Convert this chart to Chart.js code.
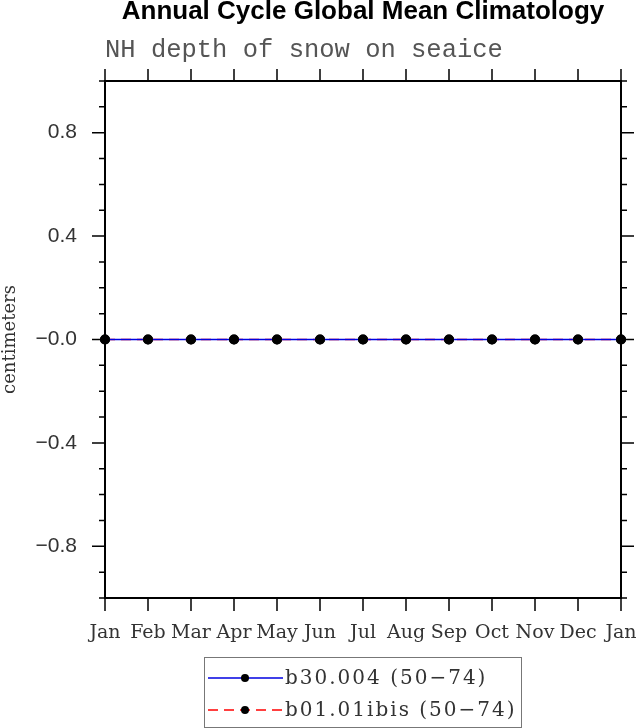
<!DOCTYPE html>
<html>
<head>
<meta charset="utf-8">
<script src="https://cdn.jsdelivr.net/npm/chart.js@4.4.1/dist/chart.umd.min.js"></script>
<style>
html, body { margin: 0; padding: 0; background: #fff; }
canvas { display: block; }
</style>
</head>
<body>
<canvas id="climChart" width="639" height="728"></canvas>
<script>
// Annual cycle, NH depth of snow on seaice (all zero)
const months = ['Jan', 'Feb', 'Mar', 'Apr', 'May', 'Jun', 'Jul', 'Aug', 'Sep', 'Oct', 'Nov', 'Dec', 'Jan'];
const b30 = [0, 0, 0, 0, 0, 0, 0, 0, 0, 0, 0, 0, 0];
const b01 = [0, 0, 0, 0, 0, 0, 0, 0, 0, 0, 0, 0, 0];
const seriesNames = ['b30.004 (50\u221274)', 'b01.01ibis (50\u221274)'];
const yMin = -1, yMax = 1, yStep = 0.1;
const yMajorEvery = 4; // label every 0.4

const isMajor = v => Math.abs(Math.round(v * 10)) % yMajorEvery === 0;
const fmt = v => {
    const r = Math.round(v * 10) / 10;
    if (r === 0) return '\u22120.0';
    return (r < 0 ? '\u2212' : '') + Math.abs(r).toFixed(1);
};

// frame, ticks on all four sides, titles and legend box
const ncl = {
    id: 'ncl',
    beforeDatasetsDraw(chart) {
        const { ctx, chartArea: a, scales: { x, y } } = chart;
        ctx.save();
        ctx.strokeStyle = '#000';
        ctx.lineWidth = 1.5;
        ctx.beginPath();
        months.forEach((m, i) => {
            const px = x.getPixelForValue(i);
            ctx.moveTo(px, a.bottom); ctx.lineTo(px, a.bottom + 13);
            ctx.moveTo(px, a.top); ctx.lineTo(px, a.top - 12);
        });
        y.ticks.forEach(t => {
            const py = y.getPixelForValue(t.value);
            const len = isMajor(t.value) ? 13 : 6;
            ctx.moveTo(a.left, py); ctx.lineTo(a.left - len, py);
            ctx.moveTo(a.right, py); ctx.lineTo(a.right + len, py);
        });
        ctx.stroke();
        ctx.lineWidth = 2;
        ctx.strokeRect(a.left, a.top, a.right - a.left, a.bottom - a.top);
        ctx.restore();
    },
    afterDraw(chart) {
        const { ctx, chartArea: a } = chart;
        ctx.save();
        ctx.fillStyle = '#000';
        ctx.textAlign = 'center';
        ctx.textBaseline = 'alphabetic';
        ctx.font = 'bold 26px "Liberation Sans", Arial, sans-serif';
        ctx.fillText('Annual Cycle Global Mean Climatology', (a.left + a.right) / 2, 19);
        ctx.textAlign = 'left';
        ctx.fillStyle = '#555';
        ctx.font = '25.5px "Liberation Mono", monospace';
        ctx.fillText('NH depth of snow on seaice', a.left, 57);

        // legend box
        const bx = 204, by = 657, bw = 317, bh = 70;
        ctx.strokeStyle = '#777';
        ctx.lineWidth = 1;
        ctx.strokeRect(bx + 0.5, by + 0.5, bw, bh);
        chart.data.datasets.forEach(ds => {
            const ry = ds.legendRow;
            ctx.strokeStyle = ds.borderColor;
            ctx.lineWidth = 1.5;
            ctx.setLineDash(ds.borderDash || []);
            ctx.beginPath();
            ctx.moveTo(208, ry); ctx.lineTo(283, ry);
            ctx.stroke();
            ctx.setLineDash([]);
            ctx.fillStyle = '#000';
            ctx.beginPath();
            ctx.arc(245, ry, 4, 0, Math.PI * 2);
            ctx.fill();
            ctx.fillStyle = '#333';
            ctx.font = '20px "DejaVu Serif", serif';
            ctx.letterSpacing = '2px';
            ctx.textBaseline = 'middle';
            ctx.fillText(ds.label, 285, ry + 1);
            ctx.letterSpacing = '0px';
        });
        ctx.restore();
    }
};

new Chart(document.getElementById('climChart'), {
    type: 'line',
    data: {
        labels: months,
        datasets: [{
            label: seriesNames[1],
            data: b01,
            borderColor: '#ff0000',
            borderWidth: 1.5,
            borderDash: [10, 6],
            pointRadius: 5,
            pointBackgroundColor: '#000',
            pointBorderColor: '#000',
            pointBorderWidth: 0,
            clip: false,
            order: 2,
            legendRow: 710
        }, {
            label: seriesNames[0],
            data: b30,
            borderColor: '#0000e0',
            borderWidth: 1.5,
            pointRadius: 5,
            pointBackgroundColor: '#000',
            pointBorderColor: '#000',
            pointBorderWidth: 0,
            clip: false,
            order: 1,
            legendRow: 678
        }]
    },
    options: {
        responsive: false,
        animation: false,
        layout: { padding: { top: 81, right: 18, left: 0, bottom: 0 } },
        plugins: {
            legend: { display: false },
            title: { display: false },
            tooltip: { enabled: false }
        },
        scales: {
            x: {
                type: 'category',
                offset: false,
                grid: { display: false, drawTicks: false },
                border: { display: false },
                ticks: {
                    autoSkip: false,
                    maxRotation: 0,
                    padding: 24,
                    color: '#333',
                    font: { family: '"DejaVu Serif", serif', size: 19 }
                },
                afterFit(s) { s.height = 130; s.paddingLeft = 0; s.paddingRight = 0; }
            },
            y: {
                min: yMin,
                max: yMax,
                grid: { display: false, drawTicks: true, tickLength: 13, tickColor: 'rgba(0,0,0,0)' },
                border: { display: false },
                title: {
                    display: true,
                    text: 'centimeters',
                    color: '#333',
                    padding: { top: 0, bottom: 0 },
                    font: { family: '"DejaVu Serif", serif', size: 18 }
                },
                ticks: {
                    stepSize: yStep,
                    autoSkip: false,
                    padding: 15,
                    color: '#333',
                    font: { family: '"Liberation Sans", Arial, sans-serif', size: 21 },
                    callback: v => isMajor(v) ? fmt(v) : ''
                },
                afterFit(s) { s.width = 105; s.paddingTop = 0; s.paddingBottom = 0; }
            }
        }
    },
    plugins: [ncl]
});
</script>
</body>
</html>
